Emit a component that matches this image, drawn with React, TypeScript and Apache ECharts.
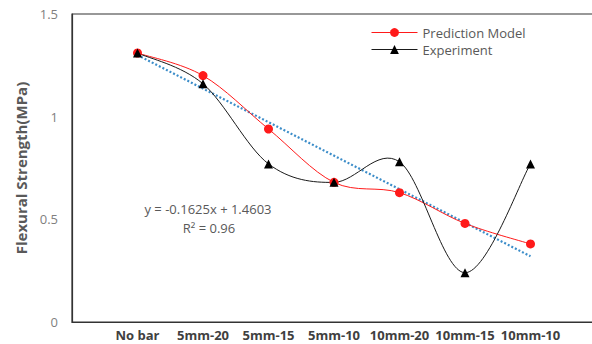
import React, { useEffect, useRef } from "react";
import * as echarts from "echarts";

const categories = ["No bar", "5mm-20", "5mm-15", "5mm-10", "10mm-20", "10mm-15", "10mm-10"];
const prediction = [1.31, 1.2, 0.94, 0.68, 0.63, 0.48, 0.38];
const experiment = [1.31, 1.16, 0.77, 0.68, 0.78, 0.24, 0.77];
const trendX = [1, 7];
const trendY = [1.3, 0.32];
const yTicks = [0, 0.5, 1, 1.5];

const RED = "#FF1A1A";
const BLACK = "#1a1a1a";

function smoothPath(pts: number[][]): string {
  // Catmull-Rom style bezier (like a spreadsheet's smoothed line)
  const n = pts.length;
  let d = `M${pts[0][0]},${pts[0][1]}`;
  for (let i = 0; i < n - 1; i++) {
    const p0 = pts[Math.max(i - 1, 0)];
    const p1 = pts[i];
    const p2 = pts[i + 1];
    const p3 = pts[Math.min(i + 2, n - 1)];
    const c1x = p1[0] + (p2[0] - p0[0]) / 6;
    const c1y = p1[1] + (p2[1] - p0[1]) / 6;
    const c2x = p2[0] - (p3[0] - p1[0]) / 6;
    const c2y = p2[1] - (p3[1] - p1[1]) / 6;
    d += ` C${c1x},${c1y} ${c2x},${c2y} ${p2[0]},${p2[1]}`;
  }
  return d;
}

function curveSeries(name: string, values: number[], color: string, z: number) {
  return {
    name,
    type: "custom",
    data: values.map((v, i) => [i + 1, v]),
    encode: { x: 0, y: 1 },
    z,
    silent: true,
    renderItem: (params: any, api: any) => {
      if (params.dataIndex !== 0) return null;
      const pts = values.map((v, i) => api.coord([i + 1, v]));
      return {
        type: "path",
        shape: { pathData: smoothPath(pts) },
        style: { stroke: color, fill: "none", lineWidth: 1 },
      };
    },
  };
}

export default function App() {
  const ref = useRef<HTMLDivElement>(null);
  useEffect(() => {
    if (!ref.current) return;
    const chart = echarts.init(ref.current, null, { renderer: "svg" });
    const font = "'Open Sans', sans-serif";
    chart.setOption({
      animation: false,
      backgroundColor: "#ffffff",
      textStyle: { fontFamily: font },
      grid: {
        left: 72,
        top: 14,
        width: 524,
        bottom: 22,
        show: true,
        borderColor: "#333",
        borderWidth: 1.2,
        outerBoundsMode: "none",
        containLabel: false,
      },
      legend: {
        orient: "vertical",
        left: 366,
        top: 21,
        itemWidth: 46,
        itemHeight: 11,
        itemGap: 4,
        textStyle: { color: "#595959", fontSize: 13, fontFamily: font },
        data: [
          { name: "Prediction Model", lineStyle: { opacity: 1, color: RED, width: 1 } },
          { name: "Experiment", lineStyle: { opacity: 1, color: BLACK, width: 1 } },
        ],
      },
      xAxis: {
        type: "value",
        min: 0,
        max: 8,
        interval: 1,
        axisLine: { show: true, lineStyle: { color: "#333", width: 1.2 } },
        axisTick: { show: false },
        splitLine: { show: false },
        axisLabel: {
          color: "#404040",
          fontWeight: "bold",
          fontSize: 13,
          margin: 6,
          formatter: (v: number) => (v >= 1 && v <= categories.length ? categories[v - 1] : ""),
        },
      },
      yAxis: {
        type: "value",
        min: yTicks[0],
        max: yTicks[yTicks.length - 1],
        interval: 0.5,
        name: "Flexural Strength(MPa)",
        nameLocation: "middle",
        nameGap: 43,
        nameTextStyle: { color: "#595959", fontWeight: "bold", fontSize: 15 },
        axisLine: { show: true, lineStyle: { color: "#333", width: 1.2 } },
        axisTick: { show: false },
        splitLine: { show: false },
        axisLabel: { color: "#7f7f7f", fontSize: 13, margin: 14 },
      },
      series: [
        {
          name: "Trend",
          type: "line",
          data: trendX.map((x, i) => [x, trendY[i]]),
          symbol: "none",
          lineStyle: { color: "#3C8DC9", width: 2.2, type: [2, 2] },
          z: 1,
        },
        curveSeries("Prediction curve", prediction, RED, 2),
        curveSeries("Experiment curve", experiment, BLACK, 2),
        {
          name: "Prediction Model",
          type: "line",
          data: categories.map((_, i) => [i + 1, prediction[i]]),
          symbol: "circle",
          symbolSize: 9,
          itemStyle: { color: RED },
          lineStyle: { color: RED, width: 1, opacity: 0 },
          z: 3,
        },
        {
          name: "Experiment",
          type: "line",
          data: categories.map((_, i) => [i + 1, experiment[i]]),
          symbol: "triangle",
          symbolSize: 9,
          itemStyle: { color: "#000" },
          lineStyle: { color: BLACK, width: 1, opacity: 0 },
          z: 4,
        },
      ],
      graphic: [
        {
          type: "text",
          x: 208,
          y: 209,
          style: {
            text: "y = -0.1625x + 1.4603",
            fill: "#595959",
            fontSize: 13,
            fontFamily: font,
            align: "center",
            verticalAlign: "middle",
          },
        },
        {
          type: "text",
          x: 209,
          y: 228,
          style: {
            text: "R² = 0.96",
            fill: "#595959",
            fontSize: 13,
            fontFamily: font,
            align: "center",
            verticalAlign: "middle",
          },
        },
      ],
    });
    return () => chart.dispose();
  }, []);
  return (
    <div
      ref={ref}
      style={{ position: "fixed", left: 0, top: 0, width: 592, height: 344, background: "#fff" }}
    />
  );
}
